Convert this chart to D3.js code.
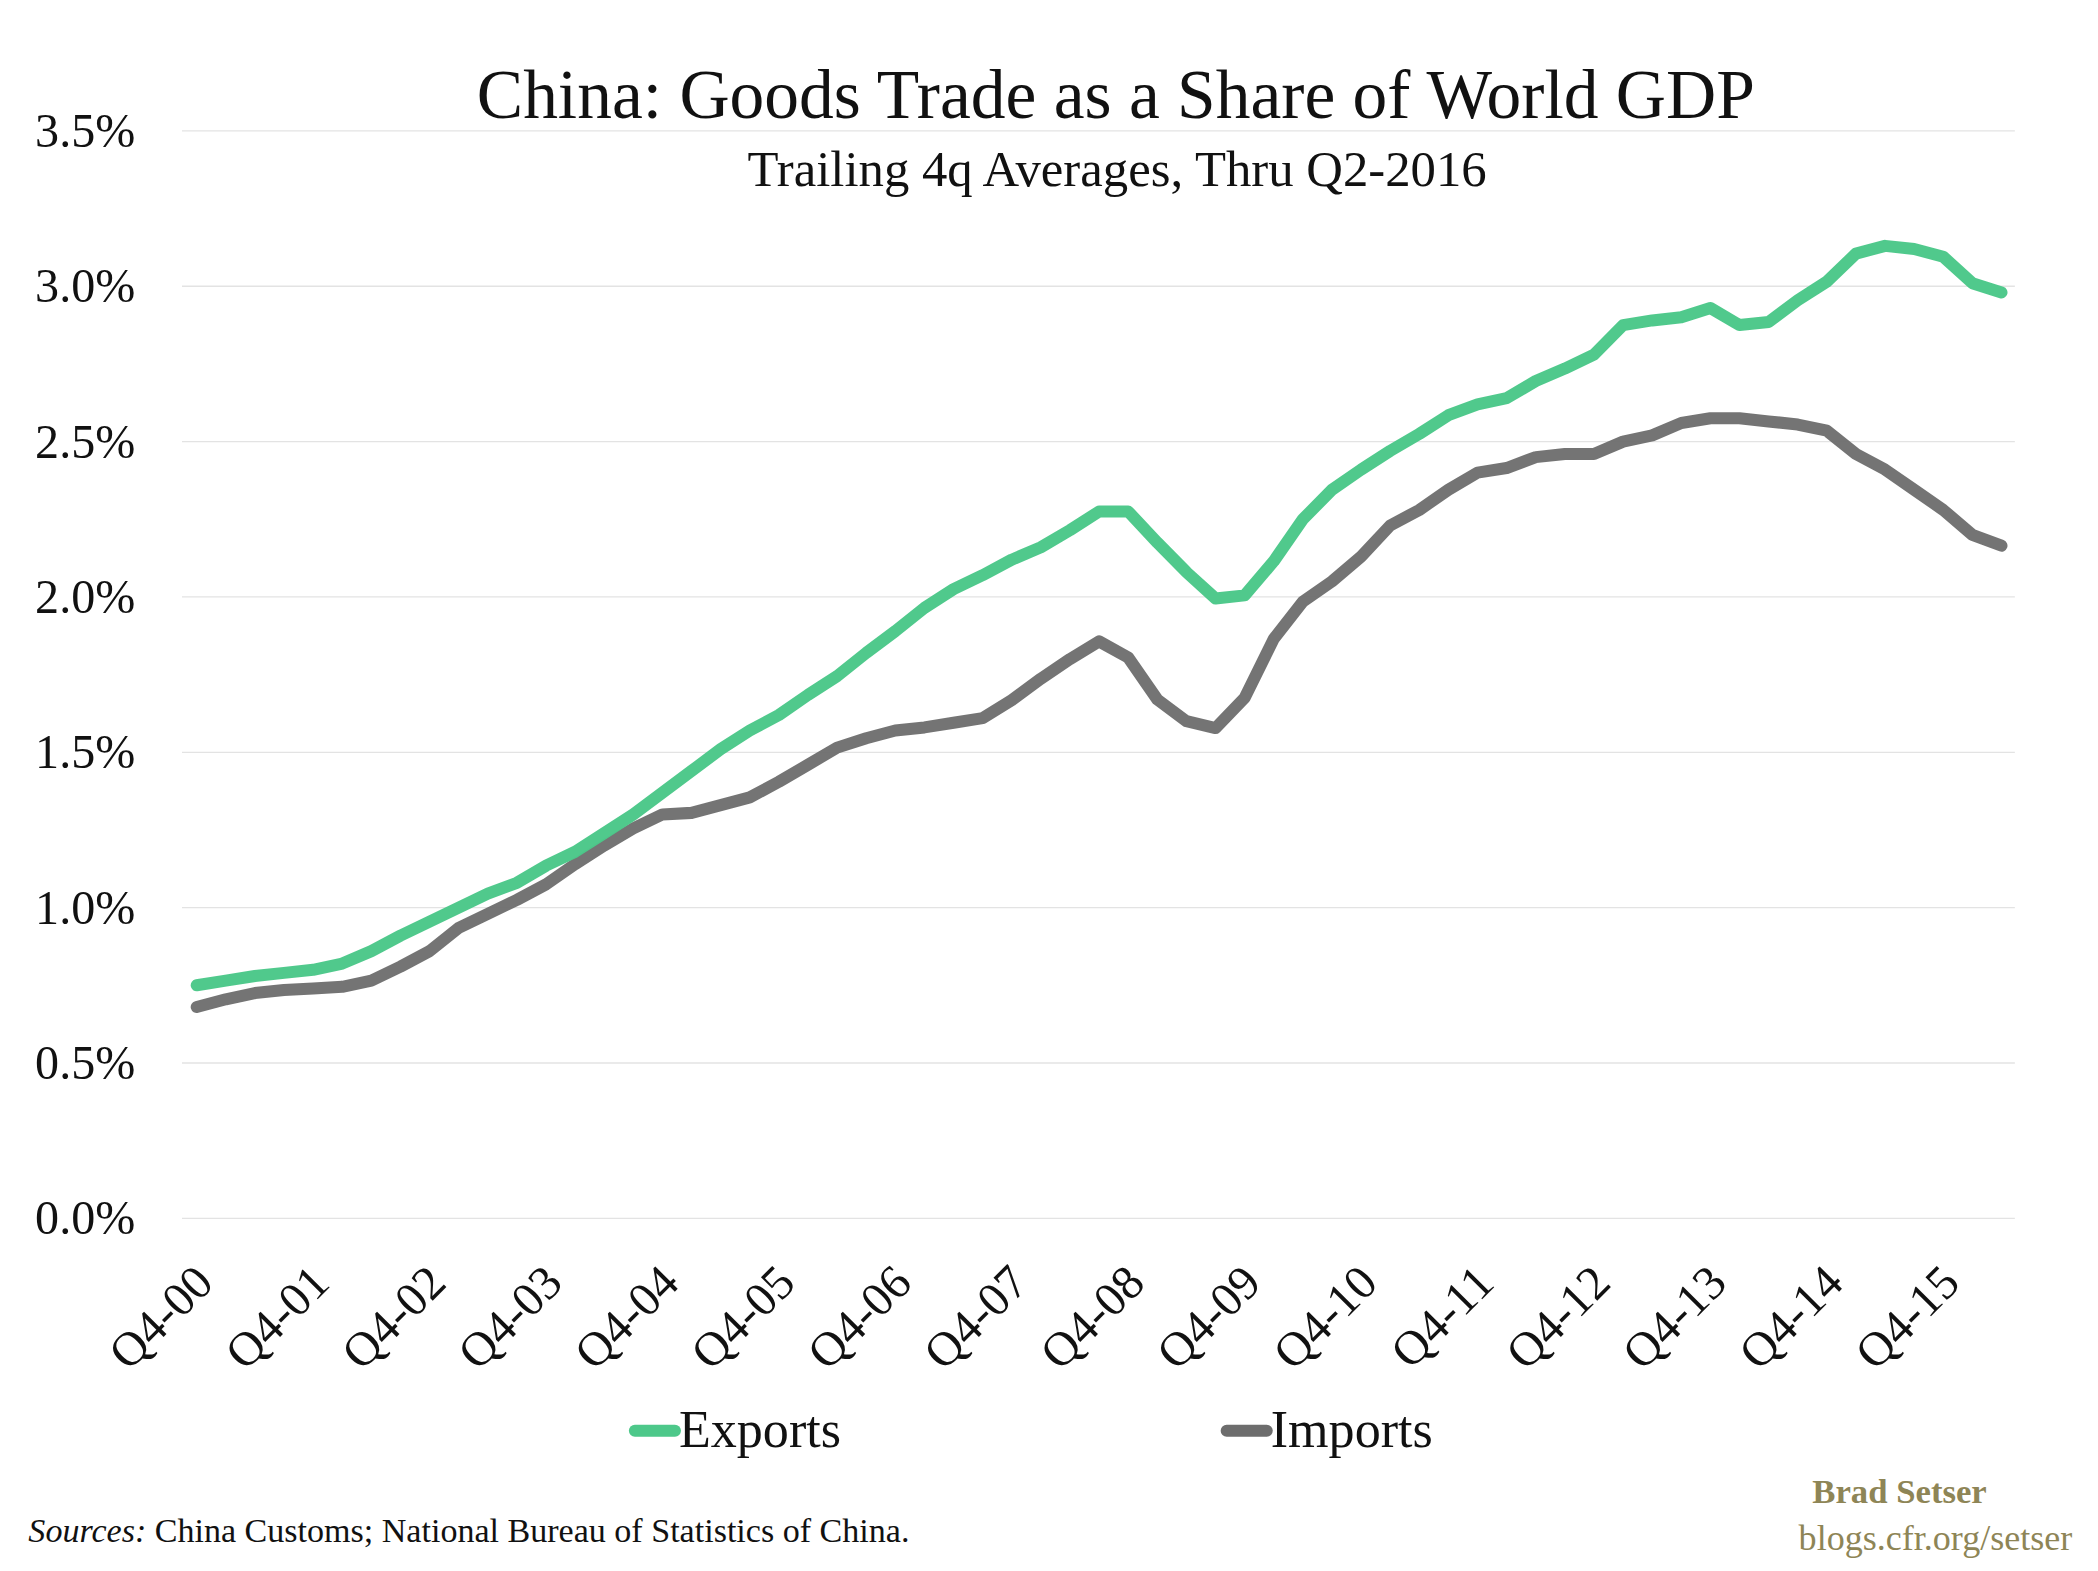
<!DOCTYPE html>
<html><head><meta charset="utf-8">
<script src="https://cdn.jsdelivr.net/npm/d3@7"></script>
<style>body{margin:0;background:#fff}</style></head>
<body><svg id="c" width="2098" height="1571" viewBox="0 0 1568 1176"></svg>
<script>
const exportsData=[0.75,0.765,0.78,0.79,0.80,0.82,0.86,0.91,0.955,1.0,1.045,1.08,1.135,1.18,1.24,1.30,1.37,1.44,1.51,1.57,1.62,1.685,1.745,1.82,1.89,1.965,2.025,2.07,2.12,2.16,2.215,2.275,2.275,2.175,2.08,1.995,2.005,2.115,2.25,2.345,2.41,2.47,2.525,2.585,2.62,2.64,2.695,2.735,2.78,2.875,2.89,2.90,2.93,2.875,2.885,2.955,3.015,3.105,3.13,3.12,3.095,3.01,2.98];
const importsData=[0.68,0.705,0.725,0.735,0.74,0.745,0.765,0.81,0.86,0.935,0.98,1.025,1.075,1.14,1.20,1.255,1.30,1.305,1.33,1.355,1.405,1.46,1.515,1.545,1.57,1.58,1.595,1.61,1.668,1.737,1.80,1.857,1.805,1.67,1.60,1.578,1.675,1.865,1.985,2.05,2.13,2.23,2.28,2.345,2.40,2.415,2.45,2.46,2.46,2.50,2.52,2.56,2.575,2.575,2.565,2.555,2.535,2.46,2.41,2.345,2.28,2.20,2.165];
const xLabels=["Q4-00","Q4-01","Q4-02","Q4-03","Q4-04","Q4-05","Q4-06","Q4-07","Q4-08","Q4-09","Q4-10","Q4-11","Q4-12","Q4-13","Q4-14","Q4-15"];
const yTicks=[0,0.5,1.0,1.5,2.0,2.5,3.0,3.5];
const svg=d3.select("#c");
const F="'Liberation Serif','Times New Roman',serif";
const x=d3.scaleLinear().domain([0,62]).range([146,1497]);
const y=d3.scaleLinear().domain([0,3.5]).range([912,98]);
svg.append("g").selectAll("line").data(yTicks).join("line")
 .attr("x1",135).attr("x2",1507).attr("y1",d=>y(d)).attr("y2",d=>y(d))
 .attr("stroke","#e3e3e3").attr("stroke-width",1);
svg.append("g").selectAll("text").data(yTicks).join("text")
 .attr("x",100).attr("y",d=>y(d)+12).attr("text-anchor","end")
 .attr("font-family",F).attr("font-size",36).attr("fill","#111")
 .text(d=>d.toFixed(1)+"%");
svg.append("g").selectAll("text").data(xLabels).join("text")
 .attr("transform",(d,i)=>`translate(${x(i*4)+14},${962}) rotate(-45)`)
 .attr("text-anchor","end").attr("font-family",F).attr("font-size",36).attr("fill","#111")
 .text(d=>d);
const line=d3.line().x((d,i)=>x(i)).y(d=>y(d));
svg.append("path").datum(importsData).attr("d",line).attr("fill","none")
 .attr("stroke","#6d6d6d").attr("stroke-width",9).attr("stroke-linejoin","round").attr("stroke-linecap","round").attr("opacity",0.95);
svg.append("path").datum(exportsData).attr("d",line).attr("fill","none")
 .attr("stroke","#4dc88a").attr("stroke-width",9).attr("stroke-linejoin","round").attr("stroke-linecap","round").attr("opacity",0.98);
svg.append("text").attr("x",834).attr("y",88).attr("text-anchor","middle").attr("font-family",F).attr("font-size",52).attr("fill","#111").text("China: Goods Trade as a Share of World GDP");
svg.append("text").attr("x",835).attr("y",139).attr("text-anchor","middle").attr("font-family",F).attr("font-size",38).attr("fill","#111").text("Trailing 4q Averages, Thru Q2-2016");
const leg=[{n:"Exports",c:"#4dc88a",x:470},{n:"Imports",c:"#6d6d6d",x:913}];
leg.forEach(l=>{
 svg.append("line").attr("x1",l.x+4).attr("x2",l.x+34).attr("y1",1071).attr("y2",1071).attr("stroke",l.c).attr("stroke-width",9).attr("stroke-linecap","round");
 svg.append("text").attr("x",l.x+37).attr("y",1083).attr("font-family",F).attr("font-size",39).attr("fill","#111").text(l.n);
});
const s=svg.append("text").attr("x",20).attr("y",1154).attr("font-family",F).attr("font-size",25.5).attr("fill","#111");
s.append("tspan").attr("font-style","italic").text("Sources:");
s.append("tspan").text(" China Customs; National Bureau of Statistics of China.");
svg.append("text").attr("x",1486).attr("y",1125).attr("text-anchor","end").attr("font-family",F).attr("font-size",26).attr("font-weight","bold").attr("fill","#8e8556").text("Brad Setser");
svg.append("text").attr("x",1550).attr("y",1160).attr("text-anchor","end").attr("font-family",F).attr("font-size",27).attr("fill","#8e8556").text("blogs.cfr.org/setser");
</script></body></html>
